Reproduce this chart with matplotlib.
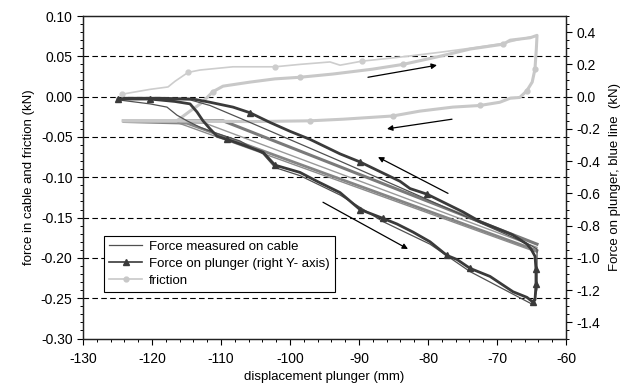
import matplotlib
matplotlib.use("Agg")
import matplotlib.pyplot as plt
from matplotlib.ticker import MultipleLocator, FormatStrFormatter
from matplotlib.lines import Line2D

plt.rcParams['font.family'] = ['Liberation Sans', 'DejaVu Sans']
plt.rcParams['axes.unicode_minus'] = False
FS = 9.5
TFS = 10

# ---------------- data ----------------
# Force on plunger (right axis, kN): loading branch then unloading branch
plunger_x = [-124.93, -120.29, -116.67, -114.49, -113.48, -112.61, -111.59, -110.58, -109.13,
             -106.81, -103.91, -102.17, -98.55, -96.09, -92.75, -89.86, -86.52, -84.49, -82.17,
             -79.71, -77.25, -75.80, -73.91, -71.01, -67.68, -65.65, -64.78,
             -64.49, -64.35, -64.35, -64.49, -65.07, -65.65, -67.83, -72.46, -74.93, -80.14,
             -82.61, -84.06, -86.96, -89.86, -92.75, -97.10, -100.00, -102.90, -105.80,
             -108.26, -111.59, -114.06, -118.84, -123.91]
plunger_y = [-0.015, -0.015, -0.03, -0.045, -0.095, -0.15, -0.20, -0.245, -0.265,
             -0.30, -0.345, -0.425, -0.47, -0.525, -0.595, -0.70, -0.755, -0.79, -0.84,
             -0.90, -0.985, -1.01, -1.065, -1.115, -1.21, -1.245, -1.275,
             -1.26, -1.165, -1.07, -0.99, -0.945, -0.915, -0.855, -0.775, -0.715, -0.605,
             -0.57, -0.525, -0.465, -0.405, -0.355, -0.265, -0.215, -0.16, -0.10,
             -0.065, -0.035, -0.015, -0.01, -0.01]

# Force measured on cable (left axis, kN)
cable_x = [-124.93, -120.29, -117.83, -116.38, -114.93, -113.04, -111.16, -107.25, -103.91,
           -102.17, -98.55, -92.75, -86.52, -79.71, -73.91, -67.68, -64.78,
           -64.20, -64.20, -64.20, -65.22, -79.71, -92.75, -105.80, -111.59, -114.49, -123.91]
cable_y = [-0.004, -0.009, -0.013, -0.023, -0.030, -0.038, -0.044, -0.055, -0.071,
           -0.088, -0.098, -0.122, -0.155, -0.183, -0.217, -0.245, -0.258,
           -0.239, -0.208, -0.189, -0.184, -0.129, -0.080, -0.032, -0.011, -0.004, -0.003]

# later cable cycles (straight return traces)
cable2_x = [-124.06, -109.71, -64.20]
cable2_y = [-0.030, -0.030, -0.183]
cable3_x = [-124.06, -114.93, -64.20]
cable3_y = [-0.031, -0.033, -0.191]
cable4_x = [-124.06, -112.3, -64.20]
cable4_y = [-0.030, -0.033, -0.187]
cable5_x = [-124.06, -116.4, -64.20]
cable5_y = [-0.030, -0.032, -0.193]

# friction (left axis, kN)
friction_x = [-124.2, -116.4, -114.5, -113.0, -112.0, -111.2, -109.7, -105.8, -102.2, -98.6,
              -93.8, -88.1, -83.6, -78.3, -73.9, -69.1, -68.1, -65.2, -64.2, -64.3, -64.5,
              -64.9, -65.7, -66.7, -68.1, -69.6, -72.5, -76.4, -81.2, -85.1, -92.3, -97.1,
              -105.8, -116.4, -124.1]
friction_y = [-0.030, -0.030, -0.018, -0.009, -0.001, 0.006, 0.013, 0.018, 0.022, 0.024,
              0.028, 0.034, 0.040, 0.050, 0.059, 0.065, 0.070, 0.073, 0.076, 0.059, 0.034,
              0.018, 0.007, -0.001, -0.002, -0.007, -0.011, -0.013, -0.018, -0.024, -0.028, -0.030,
              -0.031, -0.030, -0.030]
friction1_x = [-124.35, -120.29, -117.68, -116.67, -114.78, -113.04, -108.26, -102.17, -98.55,
               -94.20, -92.75, -89.57, -84.06, -78.26, -73.91, -69.13, -65.22]
friction1_y = [0.003, 0.009, 0.012, 0.019, 0.030, 0.033, 0.037, 0.037, 0.040,
               0.043, 0.039, 0.044, 0.049, 0.055, 0.060, 0.066, 0.074]

# direction arrows (start -> end), left-axis units
arrows = [((-88.70, 0.024), (-78.70, 0.039)),
          ((-76.52, -0.028), (-85.94, -0.040)),
          ((-77.10, -0.120), (-87.25, -0.075)),
          ((-95.22, -0.131), (-82.90, -0.189))]

# ---------------- plot ----------------
fig = plt.figure(figsize=(6.33, 3.92), dpi=100)
ax = fig.add_axes([83/633, 1-338.5/392, 483/633, 322.5/392])
ax2 = ax.twinx()

for yv in [0.05, 0.0, -0.05, -0.10, -0.15, -0.20, -0.25]:
    ax.axhline(yv, color='black', lw=0.8, ls=(0, (5, 3)), zorder=0)

# straight cable traces
ax.plot(cable2_x, cable2_y, color='#7a7a7a', lw=2.2, zorder=2)
ax.plot(cable3_x, cable3_y, color='#858585', lw=2.0, zorder=2)
ax.plot(cable4_x, cable4_y, color='#999999', lw=1.0, zorder=2)
ax.plot(cable5_x, cable5_y, color='#8c8c8c', lw=1.0, zorder=2)

# friction
ax.plot(friction1_x, friction1_y, color='#cdcdcd', lw=1.2, marker='o', ms=3.5,
        markevery=[0, 4, 7, 11], zorder=3)
ax.plot(friction_x, friction_y, color='#c8c8c8', lw=2.2, marker='o', ms=3.5,
        markevery=[5, 9, 12, 15, 20, 22, 26, 29, 31], zorder=3)

# cable
ax.plot(cable_x, cable_y, color='#505050', lw=0.9, zorder=4)

# plunger on right axis
ax2.plot(plunger_x, plunger_y, color='#3a3a3a', lw=2.0, marker='^', ms=4,
         markevery=[0, 1, 8, 11, 15, 16, 20, 22, 26, 28, 29, 36, 40, 45], zorder=5)

for (s, e) in arrows:
    ax.annotate('', xy=e, xytext=s,
                arrowprops=dict(arrowstyle='-|>', color='black', lw=0.9,
                                mutation_scale=8, shrinkA=0, shrinkB=0))

ax.set_xlim(-130, -60)
ax.set_ylim(-0.30, 0.10)
ax2.set_ylim(-1.5, 0.5)

ax.xaxis.set_major_locator(MultipleLocator(10))
ax.xaxis.set_minor_locator(MultipleLocator(2))
ax.yaxis.set_major_locator(MultipleLocator(0.05))
ax.yaxis.set_minor_locator(MultipleLocator(0.01))
ax.yaxis.set_major_formatter(FormatStrFormatter('%.2f'))
ax2.yaxis.set_minor_locator(MultipleLocator(0.05))
ax2.yaxis.set_major_formatter(FormatStrFormatter('%.1f'))
ax2.set_yticks([0.4, 0.2, 0.0, -0.2, -0.4, -0.6, -0.8, -1.0, -1.2, -1.4])

for a in (ax, ax2):
    a.tick_params(which='major', length=4, width=0.8, labelsize=TFS, direction='out')
    a.tick_params(which='minor', length=2.2, width=0.7, direction='out')
    for sp in a.spines.values():
        sp.set_linewidth(0.9)
        sp.set_color('#222222')
ax.tick_params(axis='x', pad=6)

ax.set_xlabel('displacement plunger (mm)', fontsize=FS, labelpad=3)
ax.set_ylabel('force in cable and friction (kN)', fontsize=FS, labelpad=4)
ax2.set_ylabel('Force on plunger, blue line  (kN)', fontsize=FS, labelpad=6)

handles = [Line2D([], [], color='#505050', lw=0.9),
           Line2D([], [], color='#3a3a3a', lw=1.2, marker='^', ms=4),
           Line2D([], [], color='#c8c8c8', lw=1.2, marker='o', ms=3.5)]
labels = ['Force measured on cable', 'Force on plunger (right Y- axis)', 'friction']
leg = ax.legend(handles, labels, loc='lower left', bbox_to_anchor=(0.043, 0.144),
                fontsize=FS, frameon=True, fancybox=False, edgecolor='black',
                framealpha=1, handlelength=2.5, handletextpad=0.5, labelspacing=0.35,
                borderpad=0.4, borderaxespad=0)
leg.get_frame().set_linewidth(0.8)
leg.set_zorder(10)

fig.savefig('out.png', dpi=100)
